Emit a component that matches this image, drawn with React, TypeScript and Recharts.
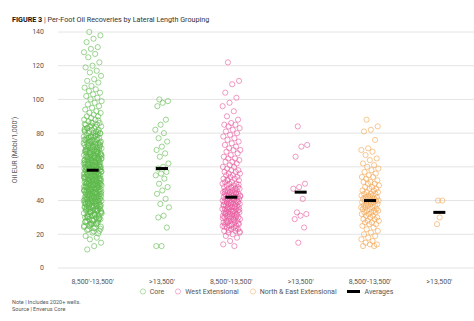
import React from 'react';
import { ScatterChart, Scatter, XAxis, YAxis, CartesianGrid } from 'recharts';

const categories = ["8,500'-13,500'", ">13,500'", "8,500'-13,500'", ">13,500'", "8,500'-13,500'", ">13,500'"];
const yTicks = [0, 20, 40, 60, 80, 100, 120, 140];

// Core
const coreShort = [
  140, 138, 136, 134, 131, 130, 128, 127, 125, 122, 120, 119, 117, 116, 114, 112, 111, 110, 108, 107, 106, 105, 104, 103,
  102, 101, 100, 99, 98, 97, 96, 95, 94, 93, 92, 92, 91, 90, 90, 89, 88, 88, 87, 86, 86, 85, 85, 84, 84, 83, 83, 82, 82,
  81, 81, 80, 80, 80, 79, 79, 78, 78, 78, 77, 77, 76, 76, 76, 75, 75, 75, 74, 74, 74, 73, 73, 73, 72, 72, 72, 71, 71, 71,
  70, 70, 70, 70, 69, 69, 69, 68, 68, 68, 68, 67, 67, 67, 66, 66, 66, 66, 65, 65, 65, 65, 64, 64, 64, 64, 63, 63, 63, 63,
  62, 62, 62, 62, 61, 61, 61, 61, 60, 60, 60, 60, 60, 59, 59, 59, 59, 58, 58, 58, 58, 58, 57, 57, 57, 57, 56, 56, 56, 56,
  55, 55, 55, 55, 55, 54, 54, 54, 54, 53, 53, 53, 53, 52, 52, 52, 52, 51, 51, 51, 51, 50, 50, 50, 50, 50, 49, 49, 49, 49,
  48, 48, 48, 48, 47, 47, 47, 47, 46, 46, 46, 46, 45, 45, 45, 45, 44, 44, 44, 44, 43, 43, 43, 42, 42, 42, 42, 41, 41, 41,
  40, 40, 40, 40, 39, 39, 39, 38, 38, 38, 37, 37, 37, 36, 36, 36, 35, 35, 35, 34, 34, 34, 33, 33, 32, 32, 31, 31, 30, 30,
  29, 29, 28, 28, 27, 26, 25, 24, 23, 22, 21, 19, 18, 17, 15, 13, 11,
  87.5, 84.5, 82.5, 79.5, 77.5, 74.5, 72.5, 70.5, 69.5, 67.5, 66.5, 65.5, 64.5, 63.5, 62.5, 61.5, 60.5, 59.5, 58.5, 57.5,
  56.5, 55.5, 54.5, 53.5, 52.5, 51.5, 50.5, 49.5, 48.5, 47.5, 46.5, 45.5, 44.5, 43.5, 42.5, 41.5, 40.5, 39.5, 38.5, 37.5,
  36.5, 35.5, 34.5, 33.5, 32.5, 31.5, 30.5, 29.5, 28.5, 27.5, 26.5, 25.5, 24.5, 23.5, 22.5, 20.5,
  86.2, 81.7, 78.3, 75.8, 73.2, 71.6, 69.2, 67.8, 66.2, 64.8, 63.2, 61.8, 60.2, 59.2, 57.8, 56.2, 54.8, 53.2, 51.8, 50.2,
  48.8, 47.2, 45.8, 44.2, 42.8, 41.2, 39.8, 38.2, 36.8, 35.2, 33.8, 32.2, 30.8, 28.8, 26.2,
  85.3, 83.7, 81.1, 79.9, 78.6, 77.1, 76.4, 75.2, 74.1, 73.6, 72.3, 71.2, 70.8, 69.7, 68.9, 68.3, 67.2, 66.7, 65.9, 65.1,
  64.3, 63.8, 62.9, 62.1, 61.4, 60.7, 59.8, 59.1, 58.4, 57.3, 56.8, 56.1, 55.3, 54.6, 53.9, 53.1, 52.4, 51.7, 50.9, 50.3,
  49.6, 48.9, 48.2, 47.6, 46.9, 46.1, 45.4, 44.7, 43.9, 43.2, 42.4, 41.7, 40.9, 40.2, 39.4, 38.7, 37.9, 37.1, 36.3, 35.6,
  34.7, 33.9, 33.1, 32.4, 31.6, 30.3, 29.4, 28.1, 27.3, 25.9, 24.7, 23.3, 21.8,
  82.9, 80.6, 77.9, 76.1, 74.8, 73.9, 72.8, 71.9, 70.2, 69.1, 68.6, 67.4, 66.4, 65.7, 64.6, 63.4, 62.6, 61.1, 60.9, 59.7,
  58.9, 58.1, 57.1, 56.6, 55.8, 54.9, 54.1, 53.4, 52.7, 51.9, 51.3, 50.6, 49.8, 49.1, 48.3, 47.9, 46.7, 46.3, 45.1, 44.9,
  43.8, 43.1, 42.1, 41.9, 40.7, 39.9, 39.1, 38.4, 37.6, 36.9, 36.1, 34.9, 33.6, 32.8, 31.2, 29.8, 27.9, 26.8, 24.3,
];
const coreLong = [100, 99, 98, 96, 88, 85, 82, 80, 77, 75, 72, 70, 68, 66, 62, 60, 59, 57, 56, 55, 53, 50, 48, 46, 44, 41, 38, 36, 31, 30, 24, 13, 13];

// West Extensional
const westShort = [
  122, 111, 109, 104, 101, 98, 96, 93, 90, 88, 86, 85, 85, 84, 83, 82, 81, 80, 79, 78, 77, 76, 75, 74, 73, 72, 71, 70, 70,
  69, 68, 67, 66, 65, 65, 64, 63, 63, 62, 61, 60, 60, 59, 58, 58, 57, 57, 56, 56, 55, 55, 54, 54, 53, 53, 52, 52, 51, 51,
  50, 50, 50, 49, 49, 48, 48, 48, 47, 47, 47, 46, 46, 46, 45, 45, 45, 45, 44, 44, 44, 44, 43, 43, 43, 43, 42, 42, 42, 42,
  41, 41, 41, 41, 40, 40, 40, 40, 39, 39, 39, 39, 38, 38, 38, 38, 37, 37, 37, 37, 36, 36, 36, 36, 35, 35, 35, 35, 34, 34,
  34, 34, 33, 33, 33, 33, 32, 32, 32, 32, 31, 31, 31, 30, 30, 30, 30, 29, 29, 29, 28, 28, 28, 27, 27, 27, 26, 26, 26, 25,
  25, 25, 24, 24, 23, 23, 22, 22, 21, 21, 20, 19, 18, 16, 14, 13,
  52.5, 49.5, 47.5, 45.5, 44.5, 43.5, 42.5, 41.5, 40.5, 39.5, 38.5, 37.5, 36.5, 35.5, 34.5, 33.5, 32.5, 31.5, 30.5, 29.5,
  28.5, 27.5, 26.5, 25.5, 24.5, 23.5, 22.5, 21.5,
];
const westLong = [84, 73, 72, 66, 50, 48, 47, 41, 33, 32, 31, 29, 24, 15];

// North & East Extensional
const neShort = [
  88, 84, 82, 81, 76, 71, 70, 69, 67, 65, 64, 62, 61, 60, 59, 58, 57, 56, 55, 54, 54, 53, 52, 51, 51, 50, 50, 49, 48, 48,
  47, 47, 46, 46, 45, 45, 44, 44, 44, 43, 43, 43, 42, 42, 42, 41, 41, 41, 40, 40, 40, 40, 39, 39, 39, 38, 38, 38, 37, 37,
  37, 36, 36, 36, 35, 35, 35, 34, 34, 34, 33, 33, 33, 32, 32, 31, 31, 30, 30, 29, 29, 28, 28, 27, 27, 26, 26, 25, 24, 23,
  22, 21, 20, 19, 18, 17, 16, 15, 14, 14, 13, 13,
];
const neLong = [40, 40, 30, 26];

const averages = [58, 59, 42, 45, 40, 33];

const GREEN = '#5cb94a';
const PINK = '#e8589e';
const ORANGE = '#f3a24c';

// spread points sideways around their category
const spread = (vals: number[], cat: number, width: number) =>
  vals.map((y, i) => {
    const f = (i * 0.6180339 + 0.31) % 1;
    return { x: cat + (f - 0.5) * width, y };
  });

const coreData = [...spread(coreShort, 1, 0.26), ...spread(coreLong, 2, 0.2)];
const westData = [...spread(westShort, 3, 0.26), ...spread(westLong, 4, 0.22)];
const neData = [...spread(neShort, 5, 0.26), ...spread(neLong, 6, 0.1)];
const avgData = averages.map((y, i) => ({ x: i + 1, y }));

const ring = (color: string) => (props: any) => {
  const { cx, cy } = props;
  if (cx == null || cy == null) return null;
  return <circle cx={cx} cy={cy} r={2.6} fill="none" stroke={color} strokeWidth={0.8} strokeOpacity={0.75} />;
};

const AvgMark = (props: any) => {
  const { cx, cy } = props;
  if (cx == null || cy == null) return null;
  return <rect x={cx - 6} y={cy - 1.5} width={12} height={3} fill="#000" />;
};

const legendItems = [
  { label: 'Core', color: GREEN },
  { label: 'West Extensional', color: PINK },
  { label: 'North & East Extensional', color: ORANGE },
];

export default function App() {
  return (
    <div style={{ position: 'absolute', left: 0, top: 0, width: 474, height: 321, background: '#fff', fontFamily: 'Roboto' }}>
      <div style={{ position: 'absolute', left: 12, top: 15, fontSize: 7.2, color: '#333', whiteSpace: 'nowrap' }}>
        <b style={{ color: '#111' }}>FIGURE 3</b> | Per-Foot Oil Recoveries by Lateral Length Grouping
      </div>
      <ScatterChart width={474} height={300} margin={{ top: 32, right: 0, bottom: 12, left: 0 }}>
        <CartesianGrid vertical={false} stroke="#e4e4e4" />
        <XAxis
          type="number"
          dataKey="x"
          domain={[0.5, 6.5]}
          ticks={[1, 2, 3, 4, 5, 6]}
          tickFormatter={(v: number) => categories[v - 1]}
          axisLine={false}
          tickLine={false}
          tick={{ fontSize: 7, fill: '#555' }}
          height={20}
          tickMargin={5}
          interval={0}
        />
        <YAxis
          type="number"
          dataKey="y"
          domain={[0, 140]}
          ticks={yTicks}
          axisLine={false}
          tickLine={false}
          tick={{ fontSize: 7, fill: '#555' }}
          width={58}
          tickMargin={8}
          label={{ value: "Oil EUR (Mbbl/1,000')", angle: -90, position: 'insideLeft', offset: 15, style: { fontSize: 7, fill: '#555', textAnchor: 'middle' } }}
        />
        <Scatter name="Core" data={coreData} shape={ring(GREEN)} isAnimationActive={false} />
        <Scatter name="West Extensional" data={westData} shape={ring(PINK)} isAnimationActive={false} />
        <Scatter name="North & East Extensional" data={neData} shape={ring(ORANGE)} isAnimationActive={false} />
        <Scatter name="Averages" data={avgData} shape={AvgMark} isAnimationActive={false} />
      </ScatterChart>
      <div style={{ position: 'absolute', left: 58, width: 416, top: 287, display: 'flex', justifyContent: 'center', fontSize: 7, color: '#555', gap: 10 }}>
        {legendItems.map((it) => (
          <span key={it.label} style={{ display: 'flex', alignItems: 'center' }}>
            <svg width={8} height={9} style={{ marginRight: 3 }}>
              <circle cx={4} cy={4.5} r={2.6} fill="none" stroke={it.color} strokeWidth={0.8} strokeOpacity={0.6} />
            </svg>
            {it.label}
          </span>
        ))}
        <span style={{ display: 'flex', alignItems: 'center' }}>
          <svg width={14} height={9} style={{ marginRight: 4 }}>
            <rect x={0} y={3} width={13} height={3} fill="#000" />
          </svg>
          Averages
        </span>
      </div>
      <div style={{ position: 'absolute', left: 12, top: 299, fontSize: 5.5, color: '#555', lineHeight: '6.5px' }}>
        <div>Note | Includes 2020+ wells.</div>
        <div>Source | Enverus Core</div>
      </div>
    </div>
  );
}
